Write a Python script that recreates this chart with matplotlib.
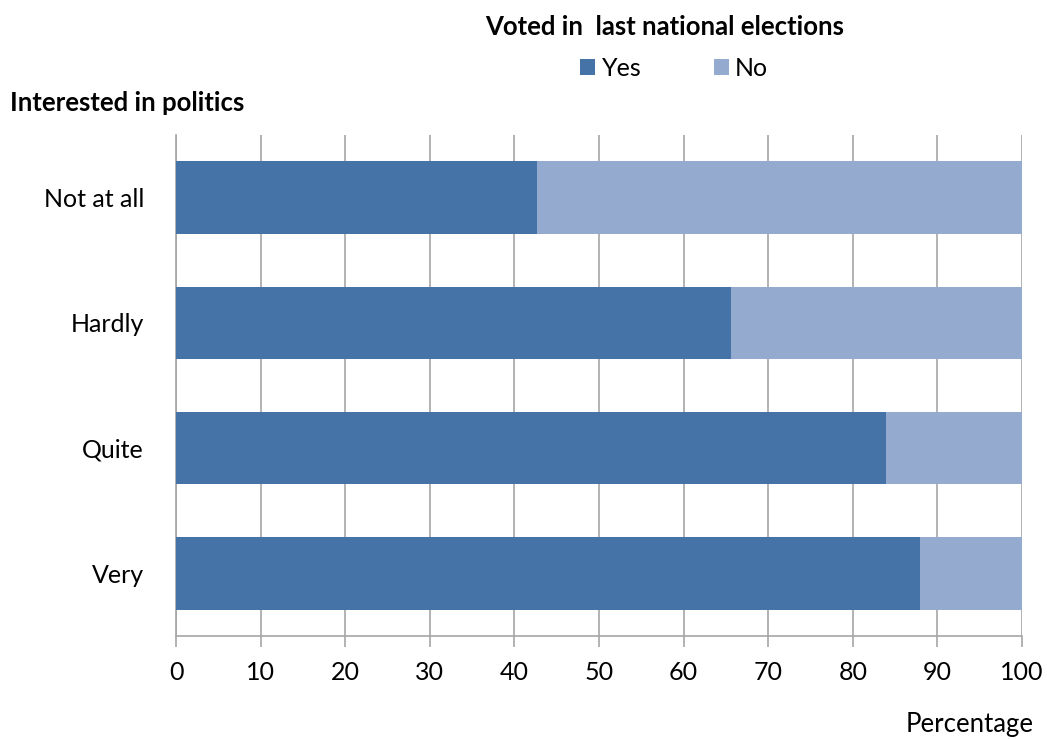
import matplotlib.pyplot as plt
import numpy as np

plt.rcParams['font.family'] = ['Lato', 'DejaVu Sans']

# Data
categories = ['Not at all', 'Hardly', 'Quite', 'Very']
yes = [42.7, 65.6, 83.9, 87.9]
no = [100 - v for v in yes]
ticks = [0, 10, 20, 30, 40, 50, 60, 70, 80, 90, 100]

yes_color = '#4572A7'
no_color = '#95AACF'
grid_color = '#A6A6A6'

fig = plt.figure(figsize=(10.47, 7.39), dpi=100)
ax = fig.add_axes([0.1681, 0.1394, 0.808, 0.678])

y = np.arange(len(categories))[::-1]
ax.barh(y, yes, height=0.58, color=yes_color, label='Yes', zorder=3)
ax.barh(y, no, left=yes, height=0.58, color=no_color, label='No', zorder=3)

ax.set_xlim(0, 100)
ax.set_ylim(-0.5, 3.5)
ax.set_xticks(ticks)
ax.set_yticks(y)
ax.set_yticklabels(categories, fontsize=18)
ax.tick_params(axis='x', labelsize=18, length=8, width=1.2, color=grid_color, pad=10)
ax.tick_params(axis='y', length=0, pad=23)
ax.grid(axis='x', color=grid_color, linewidth=1.2, zorder=0)

for s in ['top', 'right']:
    ax.spines[s].set_visible(False)
ax.spines['left'].set_color(grid_color)
ax.spines['bottom'].set_color(grid_color)
ax.spines['left'].set_linewidth(1.2)
ax.spines['bottom'].set_linewidth(1.2)

# Titles and labels
fig.text(0.635, 0.963, 'Voted in  last national elections', fontsize=18.5,
         fontweight='bold', ha='center', va='center')
fig.text(0.010, 0.861, 'Interested in politics', fontsize=18.5,
         fontweight='bold', ha='left', va='center')
fig.text(0.987, 0.020, 'Percentage', fontsize=18.5, ha='right', va='center')

ax.legend(loc='center', bbox_to_anchor=(0.644, 0.907), bbox_transform=fig.transFigure,
          ncol=2, frameon=False, fontsize=18, handlelength=0.6, handleheight=0.6,
          handletextpad=0.25, columnspacing=2.9)

plt.savefig('out.png', dpi=100)
